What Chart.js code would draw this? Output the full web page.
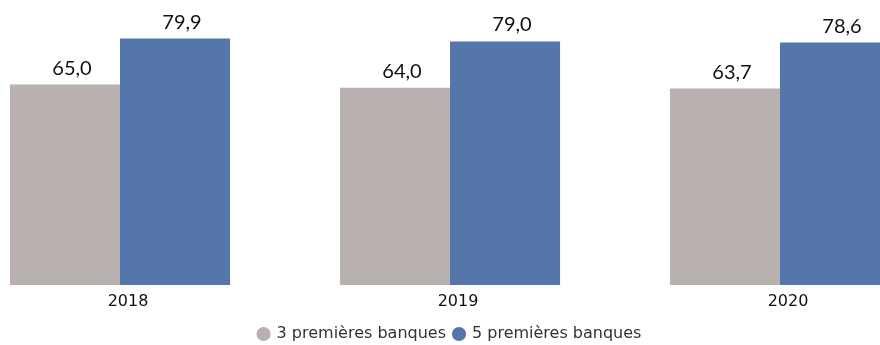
<!DOCTYPE html>
<html>
<head>
<meta charset="utf-8">
<script src="https://cdn.jsdelivr.net/npm/chart.js@4"></script>
<style>
  html, body { margin: 0; padding: 0; background: #fff; overflow: hidden; }
  #wrap { position: absolute; left: -45px; top: 0; width: 990px; height: 345px; }
</style>
</head>
<body>
<div id="wrap"><canvas id="chart"></canvas></div>
<script>
const years = ['2018', '2019', '2020'];
const seriesNames = ['3 premières banques', '5 premières banques'];
const top3 = [65.0, 64.0, 63.7];
const top5 = [79.9, 79.0, 78.6];
const colors = ['#b9b0b0', '#5576aa'];

// valeurs au-dessus des barres, format français
const barValues = {
    id: 'barValues',
    afterDatasetsDraw(chart) {
        const ctx = chart.ctx;
        ctx.save();
        ctx.font = '20px Lato';
        ctx.fillStyle = '#111';
        ctx.textAlign = 'center';
        ctx.textBaseline = 'alphabetic';
        chart.data.datasets.forEach((ds, i) => {
            chart.getDatasetMeta(i).data.forEach((bar, j) => {
                const txt = ds.data[j].toFixed(1).replace('.', ',');
                ctx.fillText(txt, bar.x + 7, bar.y - 10);
            });
        });
        ctx.restore();
    }
};

new Chart(document.getElementById('chart'), {
    type: 'bar',
    data: {
        labels: years,
        datasets: [
            { label: seriesNames[0], data: top3, backgroundColor: colors[0] },
            { label: seriesNames[1], data: top5, backgroundColor: colors[1] }
        ]
    },
    options: {
        responsive: true,
        maintainAspectRatio: false,
        animation: false,
        layout: { padding: { top: 9, bottom: -7, left: 0, right: 0 } },
        categoryPercentage: 0.667,
        barPercentage: 1.0,
        scales: {
            x: {
                grid: { display: false, drawTicks: false },
                border: { display: false },
                ticks: { color: '#111', font: { family: 'DejaVu Sans', size: 16 }, labelOffset: 8, padding: 7 },
                afterFit(scale) { scale.height = 33; }
            },
            y: { display: false, min: 0, max: 89.5 }
        },
        plugins: {
            legend: {
                position: 'bottom',
                labels: {
                    usePointStyle: true,
                    pointStyle: 'circle',
                    boxWidth: 10,
                    boxHeight: 10,
                    color: '#333',
                    font: { family: 'DejaVu Sans', size: 16 },
                    padding: 8
                }
            },
            tooltip: { enabled: false }
        }
    },
    plugins: [barValues]
});
</script>
</body>
</html>
